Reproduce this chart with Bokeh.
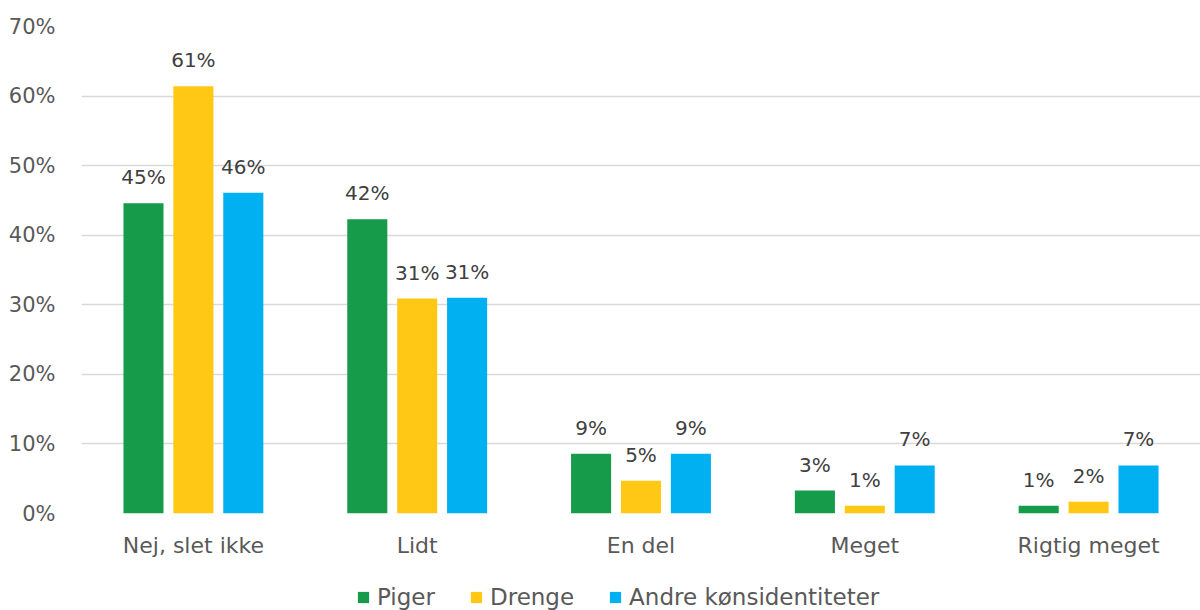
from bokeh.plotting import figure
from bokeh.models import ColumnDataSource, Legend, LegendItem, PrintfTickFormatter, FixedTicker, Range1d
from bokeh.layouts import column
from bokeh.transform import dodge
from bokeh.core.properties import value
from bokeh.embed import file_html
from bokeh.resources import INLINE

categories = ["Nej, slet ikke", "Lidt", "En del", "Meget", "Rigtig meget"]
series_names = ["Piger", "Drenge", "Andre kønsidentiteter"]
piger = [44.6, 42.3, 8.6, 3.3, 1.1]
drenge = [61.4, 30.9, 4.7, 1.1, 1.7]
andre = [46.1, 31.0, 8.6, 6.9, 6.9]
colors = ["#169B4B", "#FFC814", "#00B0F0"]
y_ticks = [0, 10, 20, 30, 40, 50, 60, 70]

FONT = "DejaVu Sans"
FS = "21px"

p = figure(x_range=categories, width=1200, height=574, output_backend="svg",
           toolbar_location=None, min_border_left=81, min_border_right=0,
           min_border_top=26, min_border_bottom=61)
p.y_range = Range1d(0, 70)
p.outline_line_color = None
p.background_fill_color = "white"
p.border_fill_color = "white"

src = ColumnDataSource(dict(cat=categories, s0=piger, s1=drenge, s2=andre,
                            l0=[f"{round(v)}%" for v in piger],
                            l1=[f"{round(v)}%" for v in drenge],
                            l2=[f"{round(v)}%" for v in andre]))

offsets = [-0.223, 0.0, 0.223]
for i, off in enumerate(offsets):
    p.vbar(x=dodge("cat", off, range=p.x_range), top=f"s{i}", width=0.179,
           source=src, fill_color=colors[i], line_color=None)
    p.text(x=dodge("cat", off, range=p.x_range), y=f"s{i}", text=f"l{i}", source=src,
           text_align="center", text_baseline="middle", y_offset=-26,
           text_font=value(FONT), text_font_size="20px", text_color="#404040")

p.yaxis.ticker = FixedTicker(ticks=y_ticks)
p.yaxis.formatter = PrintfTickFormatter(format="%d%%")
p.yaxis.axis_line_color = None
p.yaxis.major_tick_line_color = None
p.yaxis.minor_tick_line_color = None
p.yaxis.major_label_text_font = FONT
p.yaxis.major_label_text_font_size = FS
p.yaxis.major_label_text_color = "#595959"
p.yaxis.major_label_standoff = 20

p.xaxis.axis_line_color = None
p.xaxis.major_tick_line_color = None
p.xaxis.major_label_text_font = FONT
p.xaxis.major_label_text_font_size = "22px"
p.xaxis.major_label_text_color = "#595959"
p.xaxis.major_label_standoff = 13

p.xgrid.grid_line_color = None
p.ygrid.grid_line_color = "#D9D9D9"
p.ygrid.grid_line_width = 1.5

# legend in a separate strip below the chart
lf = figure(width=1200, height=36, output_backend="svg", toolbar_location=None,
            x_axis_type=None, y_axis_type=None, min_border_left=0, min_border_right=0,
            min_border_top=0, min_border_bottom=0, x_range=Range1d(0, 1), y_range=Range1d(0, 1))
lf.outline_line_color = None
lf.xgrid.grid_line_color = None
lf.ygrid.grid_line_color = None
leg_renderers = [lf.vbar(x=[0], top=[0], width=0, fill_color=c, line_color=None) for c in colors]
legend = Legend(items=[LegendItem(label=n, renderers=[r]) for n, r in zip(series_names, leg_renderers)],
                orientation="horizontal", location=(275, 0),
                label_text_font=FONT, label_text_font_size="23px", label_text_color="#595959",
                glyph_width=14, glyph_height=14, label_standoff=7, spacing=34,
                border_line_color=None, background_fill_alpha=0, padding=0, margin=0)
lf.add_layout(legend, "center")

layout = column(p, lf, spacing=0)
open("out.html", "w").write(file_html(layout, INLINE))
